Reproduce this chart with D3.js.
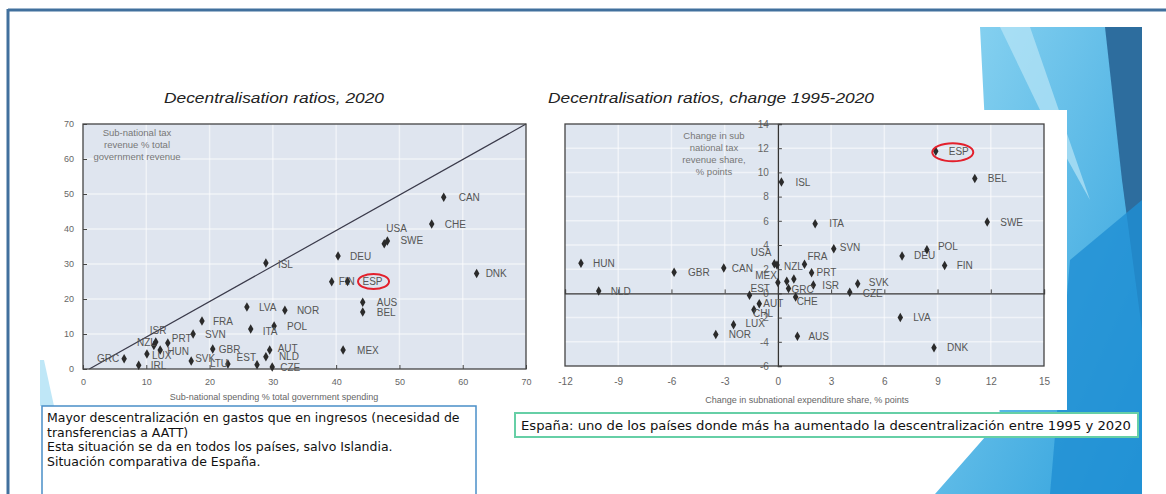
<!DOCTYPE html>
<html><head><meta charset="utf-8">
<script src="https://cdn.jsdelivr.net/npm/d3@7"></script>
<style>body{margin:0;background:#fff}svg{display:block}</style>
</head><body>
<svg id="c" width="1166" height="494"></svg>
<script>
// ---------- DATA ----------
// Left chart: Decentralisation ratios, 2020
const leftCountries = ["CAN","CHE","USA","SWE","DEU","FIN","ESP","DNK","AUS","BEL","MEX","ISL","LVA","NOR","POL","FRA","SVN","ITA","ISR","NZL","PRT","LUX","HUN","GRC","IRL","SVK","GBR","LTU","EST","AUT","NLD","CZE"];
const leftSpending = [57.0,55.1,47.6,48.1,40.3,39.3,41.8,62.2,44.2,44.2,41.1,28.9,25.9,31.9,30.2,18.8,17.4,26.5,11.5,11.2,13.4,10.1,12.2,6.5,8.8,17.1,20.5,22.9,27.5,29.5,28.9,29.9];
const leftRevenue  = [49.1,41.4,35.8,36.6,32.3,24.9,25.0,27.3,19.1,16.3,5.4,30.3,17.7,16.8,12.3,13.7,10.0,11.4,7.7,6.7,7.4,4.3,5.4,2.9,1.1,2.3,5.7,1.4,1.2,5.4,3.5,0.6];
const leftTicks = [0,10,20,30,40,50,60,70];

// Right chart: Decentralisation ratios, change 1995-2020
const rightCountries = ["ESP","BEL","SWE","ISL","ITA","SVN","DEU","POL","FIN","FRA","PRT","SVK","CZE","ISR","LVA","DNK","AUS","NOR","LUX","CHL","AUT","EST","MEX","USA","NZL","GBR","CAN","HUN","NLD","GRC","CHE"];
const rightExpChange = [8.9,11.1,11.8,0.2,2.1,3.15,7.0,8.4,9.4,1.5,1.9,4.5,4.05,2.0,6.9,8.8,1.1,-3.5,-2.5,-1.35,-1.05,-1.6,0.0,-0.2,-0.05,-5.85,-3.05,-11.1,-10.1,0.6,1.0];
const rightRevChange = [11.75,9.5,5.9,9.2,5.75,3.7,3.1,3.6,2.3,2.4,1.7,0.8,0.1,0.7,-2.0,-4.5,-3.55,-3.4,-2.6,-1.35,-0.85,-0.15,0.9,2.45,2.35,1.75,2.1,2.5,0.2,0.4,-0.3];
// unlabelled markers in the right chart
const rightOtherX = [0.5,0.9];
const rightOtherY = [1.0,1.2];
const rightXTicks = [-12,-9,-6,-3,0,3,6,9,12,15];
const rightYTicks = [-6,-4,-2,0,2,4,6,8,10,12,14];

// ---------- LABEL PLACEMENT (dx, dy, anchor) ----------
const leftLab = {CAN:[15,0,"start"],CHE:[13,0,"start"],USA:[2,-15,"start"],SWE:[13,-1,"start"],DEU:[12,0,"start"],
 FIN:[7,0,"start"],ESP:[15,0,"start"],DNK:[9,0,"start"],AUS:[14,0,"start"],BEL:[14,0,"start"],MEX:[14,0,"start"],
 ISL:[12,1,"start"],LVA:[12,0,"start"],NOR:[12,0,"start"],POL:[13,0,"start"],FRA:[11,0,"start"],SVN:[12,0,"start"],
 ITA:[12,2,"start"],ISR:[-6,-12,"start"],NZL:[2,-3,"end"],PRT:[4,-5,"start"],LUX:[5,1,"start"],HUN:[7,1,"start"],
 GRC:[-5,0,"end"],IRL:[12,0,"start"],SVK:[4,-3,"start"],GBR:[6,0,"start"],LTU:[-18,-1,"start"],EST:[-1,-7,"end"],
 AUT:[8,-2,"start"],NLD:[13,0,"start"],CZE:[8,0,"start"]};
const rightLab = {ESP:[13,0,"start"],BEL:[13,0,"start"],SWE:[13,0,"start"],ISL:[14,0,"start"],ITA:[14,0,"start"],
 SVN:[6,-1,"start"],DEU:[12,0,"start"],POL:[11,-3,"start"],FIN:[12,0,"start"],FRA:[3,-8,"start"],PRT:[5,0,"start"],
 SVK:[11,-1,"start"],CZE:[13,1,"start"],ISR:[9,0,"start"],LVA:[13,0,"start"],DNK:[13,0,"start"],AUS:[11,0,"start"],
 NOR:[13,0,"start"],LUX:[12,-1,"start"],CHL:[-1,4,"start"],AUT:[4,0,"start"],EST:[1,-7,"start"],MEX:[-1,-7,"end"],
 USA:[-3,-11,"end"],NZL:[7,1,"start"],GBR:[14,0,"start"],CAN:[8,0,"start"],HUN:[12,0,"start"],NLD:[12,0,"start"],
 GRC:[3,1,"start"],CHE:[1,4,"start"]};

const svg = d3.select("#c");
const F = "'Liberation Sans', Arial, sans-serif";
const fmt = d => String(d);   // plain hyphen minus, as in the reference

// ---------- BACKGROUND DECORATION ----------
const deco = svg.append("g");
const defs = svg.append("defs");
const g1 = defs.append("linearGradient").attr("id","gA").attr("x1","0").attr("y1","0").attr("x2","1").attr("y2","1");
g1.append("stop").attr("offset","0").attr("stop-color","#8fd6f2");
g1.append("stop").attr("offset","1").attr("stop-color","#2c9fdc");
deco.append("polygon").attr("points","980,27 1142,27 1142,494 935,494 1000,420").attr("fill","url(#gA)");
deco.append("polygon").attr("points","1000,27 1030,27 1090,200 1040,110").attr("fill","#b9e6f7").attr("opacity",0.7);
deco.append("polygon").attr("points","1105,27 1142,27 1142,330 1122,180").attr("fill","#2d6d9e");
deco.append("polygon").attr("points","1070,260 1142,200 1142,494 1050,494").attr("fill","#1f8fd3").attr("opacity",0.8);
deco.append("polygon").attr("points","40,360 44,360 54,406 40,406").attr("fill","#7fd0ef").attr("opacity",0.5);

// slide frame
svg.append("line").attr("x1",8).attr("x2",1166).attr("y1",10).attr("y2",10).attr("stroke","#41709d").attr("stroke-width",3);
svg.append("line").attr("x1",8).attr("x2",8).attr("y1",9).attr("y2",494).attr("stroke","#41709d").attr("stroke-width",3);

// white panel behind the right chart
svg.append("rect").attr("x",540).attr("y",110).attr("width",527).attr("height",300).attr("fill","#fff");

const sym = d3.symbol(d3.symbolDiamond, 26);

function drawPoints(g, names, xs, ys, x, y, lab) {
  names.forEach((n,i)=>{
    const px = x(xs[i]), py = y(ys[i]);
    g.append("path").attr("d",sym).attr("transform",`translate(${px},${py})`).attr("fill","#2b2b2b");
    const l = lab[n] || [8,0,"start"];
    g.append("text").attr("x",px+l[0]).attr("y",py+l[1]+3.6).attr("text-anchor",l[2])
      .attr("font-family",F).attr("font-size",10).attr("fill","#555").text(n);
  });
}

// ---------- LEFT CHART ----------
{
  const x = d3.scaleLinear().domain([0,70]).range([83,526]);
  const y = d3.scaleLinear().domain([0,70]).range([369,124]);
  const g = svg.append("g");
  g.append("rect").attr("x",x(0)).attr("y",y(70)).attr("width",x(70)-x(0)).attr("height",y(0)-y(70)).attr("fill","#dfe5ef");
  g.selectAll(".gx").data(leftTicks.slice(1,-1)).join("line").attr("x1",d=>x(d)).attr("x2",d=>x(d))
    .attr("y1",y(70)).attr("y2",y(0)).attr("stroke","#fff").attr("stroke-width",1.5).attr("opacity",0.55);
  g.selectAll(".gy").data(leftTicks.slice(1,-1)).join("line").attr("y1",d=>y(d)).attr("y2",d=>y(d))
    .attr("x1",x(0)).attr("x2",x(70)).attr("stroke","#fff").attr("stroke-width",1.5).attr("opacity",0.55);
  g.append("line").attr("x1",x(1)).attr("y1",y(0)).attr("x2",x(70)).attr("y2",y(70)).attr("stroke","#3a3a4a").attr("stroke-width",1.2);
  const ax = g.append("g").attr("transform",`translate(0,${y(0)})`).call(d3.axisBottom(x).tickValues(leftTicks).tickFormat(fmt).tickSize(-4).tickPadding(10));
  const ay = g.append("g").attr("transform",`translate(${x(0)},0)`).call(d3.axisLeft(y).tickValues(leftTicks).tickFormat(fmt).tickSize(-4).tickPadding(9));
  [ax,ay].forEach(a=>{a.select(".domain").remove();a.selectAll("line").attr("stroke","#444");
    a.selectAll("text").attr("font-family",F).attr("font-size",9).attr("fill","#666");});
  g.append("rect").attr("x",x(0)).attr("y",y(70)).attr("width",x(70)-x(0)).attr("height",y(0)-y(70))
    .attr("fill","none").attr("stroke","#444").attr("stroke-width",1.3);
  ["Sub-national tax","revenue % total","government revenue"].forEach((t,i)=>
    g.append("text").attr("x",137).attr("y",136+i*12).attr("text-anchor","middle").attr("font-family",F)
      .attr("font-size",9.5).attr("fill","#777").text(t));
  g.append("text").attr("x",274).attr("y",400).attr("text-anchor","middle").attr("font-family",F)
    .attr("font-size",9).attr("fill","#666").text("Sub-national spending % total government spending");
  drawPoints(g, leftCountries, leftSpending, leftRevenue, x, y, leftLab);
  const ie = leftCountries.indexOf("ESP");
  g.append("ellipse").attr("cx",x(leftSpending[ie])+26).attr("cy",y(leftRevenue[ie])).attr("rx",15.5).attr("ry",7.5)
    .attr("fill","none").attr("stroke","#e3202c").attr("stroke-width",2);
  svg.append("text").attr("x",164).attr("y",103).attr("font-family",F).attr("textLength",220).attr("lengthAdjust","spacingAndGlyphs")
    .attr("font-style","italic").attr("font-size",15.5).attr("fill","#222").text("Decentralisation ratios, 2020");
}

// ---------- RIGHT CHART ----------
{
  const x = d3.scaleLinear().domain([-12,15]).range([565,1044]);
  const y = d3.scaleLinear().domain([-6,14]).range([366,124]);
  const g = svg.append("g");
  g.append("rect").attr("x",x(-12)).attr("y",y(14)).attr("width",x(15)-x(-12)).attr("height",y(-6)-y(14)).attr("fill","#dfe6f0");
  g.selectAll(".gx").data(rightXTicks.slice(1,-1)).join("line").attr("x1",d=>x(d)).attr("x2",d=>x(d))
    .attr("y1",y(14)).attr("y2",y(-6)).attr("stroke","#fff").attr("stroke-width",1.5).attr("opacity",0.55);
  g.selectAll(".gy").data(rightYTicks.slice(1,-1)).join("line").attr("y1",d=>y(d)).attr("y2",d=>y(d))
    .attr("x1",x(-12)).attr("x2",x(15)).attr("stroke","#fff").attr("stroke-width",1.5).attr("opacity",0.55);
  const ay = g.append("g").attr("transform",`translate(${x(0)},0)`).call(d3.axisLeft(y).tickValues(rightYTicks).tickFormat(fmt).tickSize(-4).tickPadding(9));
  ay.select(".domain").attr("stroke","#333").attr("stroke-width",1.3);
  const ax = g.append("g").attr("transform",`translate(0,${y(0)})`).call(d3.axisBottom(x).tickValues(rightXTicks).tickSize(-4).tickFormat(""));
  ax.select(".domain").attr("stroke","#333").attr("stroke-width",1.3);
  [ax,ay].forEach(a=>{a.selectAll("line").attr("stroke","#444");
    a.selectAll("text").attr("font-family",F).attr("font-size",10).attr("fill","#666");});
  const axb = g.append("g").attr("transform",`translate(0,${y(-6)})`).call(d3.axisBottom(x).tickValues(rightXTicks).tickFormat(fmt).tickSize(0).tickPadding(12));
  axb.select(".domain").remove();
  axb.selectAll("text").attr("font-family",F).attr("font-size",10).attr("fill","#666");
  g.append("rect").attr("x",x(-12)).attr("y",y(14)).attr("width",x(15)-x(-12)).attr("height",y(-6)-y(14))
    .attr("fill","none").attr("stroke","#444").attr("stroke-width",1.3);
  ["Change in sub","national tax","revenue share,","% points"].forEach((t,i)=>
    g.append("text").attr("x",714).attr("y",139+i*12).attr("text-anchor","middle").attr("font-family",F)
      .attr("font-size",9.5).attr("fill","#777").text(t));
  g.append("text").attr("x",807).attr("y",403).attr("text-anchor","middle").attr("font-family",F)
    .attr("font-size",9).attr("fill","#666").text("Change in subnational expenditure share, % points");
  rightOtherX.forEach((v,i)=>g.append("path").attr("d",sym).attr("transform",`translate(${x(v)},${y(rightOtherY[i])})`).attr("fill","#2b2b2b"));
  drawPoints(g, rightCountries, rightExpChange, rightRevChange, x, y, rightLab);
  const ie = rightCountries.indexOf("ESP");
  g.append("ellipse").attr("cx",x(rightExpChange[ie])+17).attr("cy",y(rightRevChange[ie])+1).attr("rx",20.5).attr("ry",9)
    .attr("fill","none").attr("stroke","#e3202c").attr("stroke-width",2);
  svg.append("text").attr("x",548).attr("y",103).attr("font-family",F).attr("textLength",326).attr("lengthAdjust","spacingAndGlyphs")
    .attr("font-style","italic").attr("font-size",15.5).attr("fill","#222").text("Decentralisation ratios, change 1995-2020");
}

// ---------- TEXT BOXES ----------
const TF = "'DejaVu Sans', Verdana, sans-serif";
svg.append("rect").attr("x",42).attr("y",406).attr("width",434).attr("height",100).attr("fill","#fff").attr("stroke","#4a8fc8").attr("stroke-width",1.5);
["Mayor descentralización en gastos que en ingresos (necesidad de","transferencias a AATT)",
 "Esta situación se da en todos los países, salvo Islandia.","Situación comparativa de España."].forEach((t,i)=>
  svg.append("text").attr("x",47).attr("y",422+i*14.5).attr("font-family",TF).attr("font-size",12.5).attr("fill","#111").text(t));
svg.append("rect").attr("x",515).attr("y",413).attr("width",623).attr("height",24).attr("fill","#fff").attr("stroke","#66cfa6").attr("stroke-width",2);
svg.append("text").attr("x",521).attr("y",430).attr("font-family",TF).attr("font-size",12.5).attr("textLength",610).attr("lengthAdjust","spacingAndGlyphs").attr("fill","#111")
  .text("España: uno de los países donde más ha aumentado la descentralización entre 1995 y 2020");
</script>
</body></html>
